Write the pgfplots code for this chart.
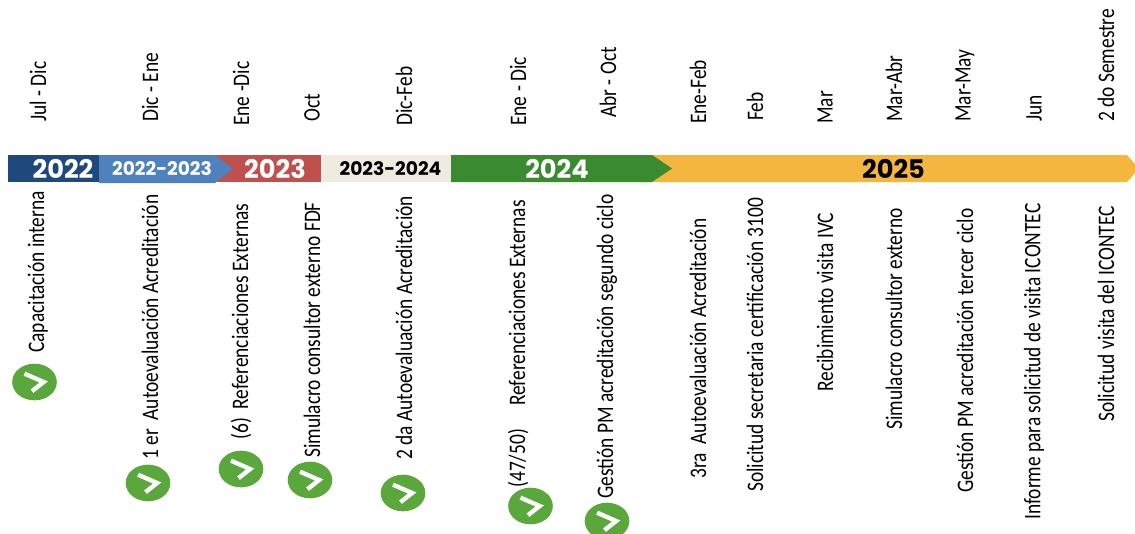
\documentclass[border=0pt]{standalone}
\usepackage{fontspec}
\usepackage{pgfplots}
\pgfplotsset{compat=1.18}
\setmainfont{Carlito}
\newfontfamily\narrow[FakeStretch=0.82]{Carlito}
\newfontfamily\yearfont{Poppins}

\definecolor{navy}{HTML}{1F497D}
\definecolor{midblue}{HTML}{4F81BD}
\definecolor{brick}{HTML}{C0504D}
\definecolor{beige}{HTML}{EEECE1}
\definecolor{leaf}{HTML}{3A8A2F}
\definecolor{amber}{HTML}{F4B63F}
\definecolor{okgreen}{HTML}{5AA83B}

% check badge, wider than tall like the reference
\pgfdeclareplotmark{badge}{%
  \pgfsetfillcolor{okgreen}%
  \pgfpathellipse{\pgfpointorigin}{\pgfqpoint{13.4pt}{0pt}}{\pgfqpoint{0pt}{11pt}}%
  \pgfusepathqfill
  \pgfsetstrokecolor{white}%
  \pgfsetlinewidth{2.6pt}%
  \pgfpathmoveto{\pgfqpoint{-6pt}{5pt}}%
  \pgfpathlineto{\pgfqpoint{5.5pt}{0pt}}%
  \pgfpathlineto{\pgfqpoint{-1.5pt}{-5.5pt}}%
  \pgfusepathqstroke
}

\newcommand{\toplabel}[3]{\node[rotate=90,anchor=west,inner sep=0pt,font=\narrow\fontsize{14.2}{16}\selectfont] at (axis cs:#1,#2) {#3};}
\newcommand{\yearlabel}[4]{\node[text=#3,inner sep=0pt,font=\yearfont\bfseries\fontsize{#4}{14}\selectfont] at (axis cs:#1,169) {#2};}

\begin{document}
\begin{tikzpicture}
\begin{axis}[
    scale only axis,
    width=681pt, height=319.8pt,
    xmin=0, xmax=1135,
    ymin=0, ymax=533,
    y dir=reverse,
    hide axis,
  ]
  % timeline bar, one segment per period
  \addplot[fill=amber,draw=none] coordinates {(640,155) (1127,155) (1135,164) (1135,173) (1127,182) (640,182)} -- cycle;
  \addplot[fill=leaf,draw=none] coordinates {(451,155) (652,155) (672,168.5) (652,182) (451,182)} -- cycle;
  \addplot[fill=beige,draw=none] coordinates {(321,155) (451,155) (451,182) (321,182)} -- cycle;
  \addplot[fill=brick,draw=none] coordinates {(210,155) (321,155) (321,182) (210,182)} -- cycle;
  \addplot[fill=midblue,draw=none] coordinates {(99,155) (215,155) (233,168.5) (215,183) (99,183)} -- cycle;
  \addplot[fill=navy,draw=none] coordinates {(8,155) (99,155) (99,182) (8,182)} -- cycle;

  % completed milestones
  \addplot[only marks,mark=badge] coordinates {
    (34.5,382) (148,483) (241,469) (310,480) (403,493) (530.5,506) (607,521)
  };

  \yearlabel{63}{2022}{white}{15.4}
  \yearlabel{162}{2022-2023}{white}{11.2}
  \yearlabel{275}{2023}{white}{15.4}
  \yearlabel{390.5}{2023-2024}{black}{11.2}
  \yearlabel{557}{2024}{white}{15.4}
  \yearlabel{893.5}{2025}{black}{15.4}

  % dates above the bar
  \toplabel{38}{122}{Jul - Dic}
  \toplabel{150}{122}{Dic - Ene}
  \toplabel{241}{126}{Ene -Dic}
  \toplabel{312}{122}{Oct}
  \toplabel{404}{126}{Dic-Feb}
  \toplabel{518}{126}{Ene - Dic}
  \toplabel{608}{118}{Abr - Oct}
  \toplabel{698}{124}{Ene-Feb}
  \toplabel{755}{121}{Feb}
  \toplabel{825}{124}{Mar}
  \toplabel{894}{122}{Mar-Abr}
  \toplabel{965}{122}{Mar-May}
  \toplabel{1034}{122}{Jun}
  \toplabel{1106}{122}{2 do Semestre}

  % activities below the bar
  \toplabel{38}{353}{Capacitación interna}
  \toplabel{150}{460}{1 er\ \ Autoevaluación Acreditación}
  \toplabel{241}{440}{(6)\ \ Referenciaciones Externas}
  \toplabel{312}{458}{Simulacro consultor externo FDF}
  \toplabel{404}{460}{2 da Autoevaluación Acreditación}
  \toplabel{518}{488}{(47/50)\hspace{14pt}Referenciaciones Externas}
  \toplabel{607}{499}{Gestión PM acreditación segundo ciclo}
  \toplabel{698}{479}{3ra\ \ Autoevaluación Acreditación}
  \toplabel{755}{492}{Solicitud secretaria certificación 3100}
  \toplabel{825}{392}{Recibimiento visita IVC}
  \toplabel{894}{430}{Simulacro consultor externo}
  \toplabel{965}{493}{Gestión PM acreditación tercer ciclo}
  \toplabel{1034}{520}{Informe para solicitud de visita ICONTEC}
  \toplabel{1106}{422}{Solicitud visita del ICONTEC}
\end{axis}
\pgfresetboundingbox
\path[use as bounding box] (0,0) rectangle (681pt,319.8pt);
\end{tikzpicture}
\end{document}
